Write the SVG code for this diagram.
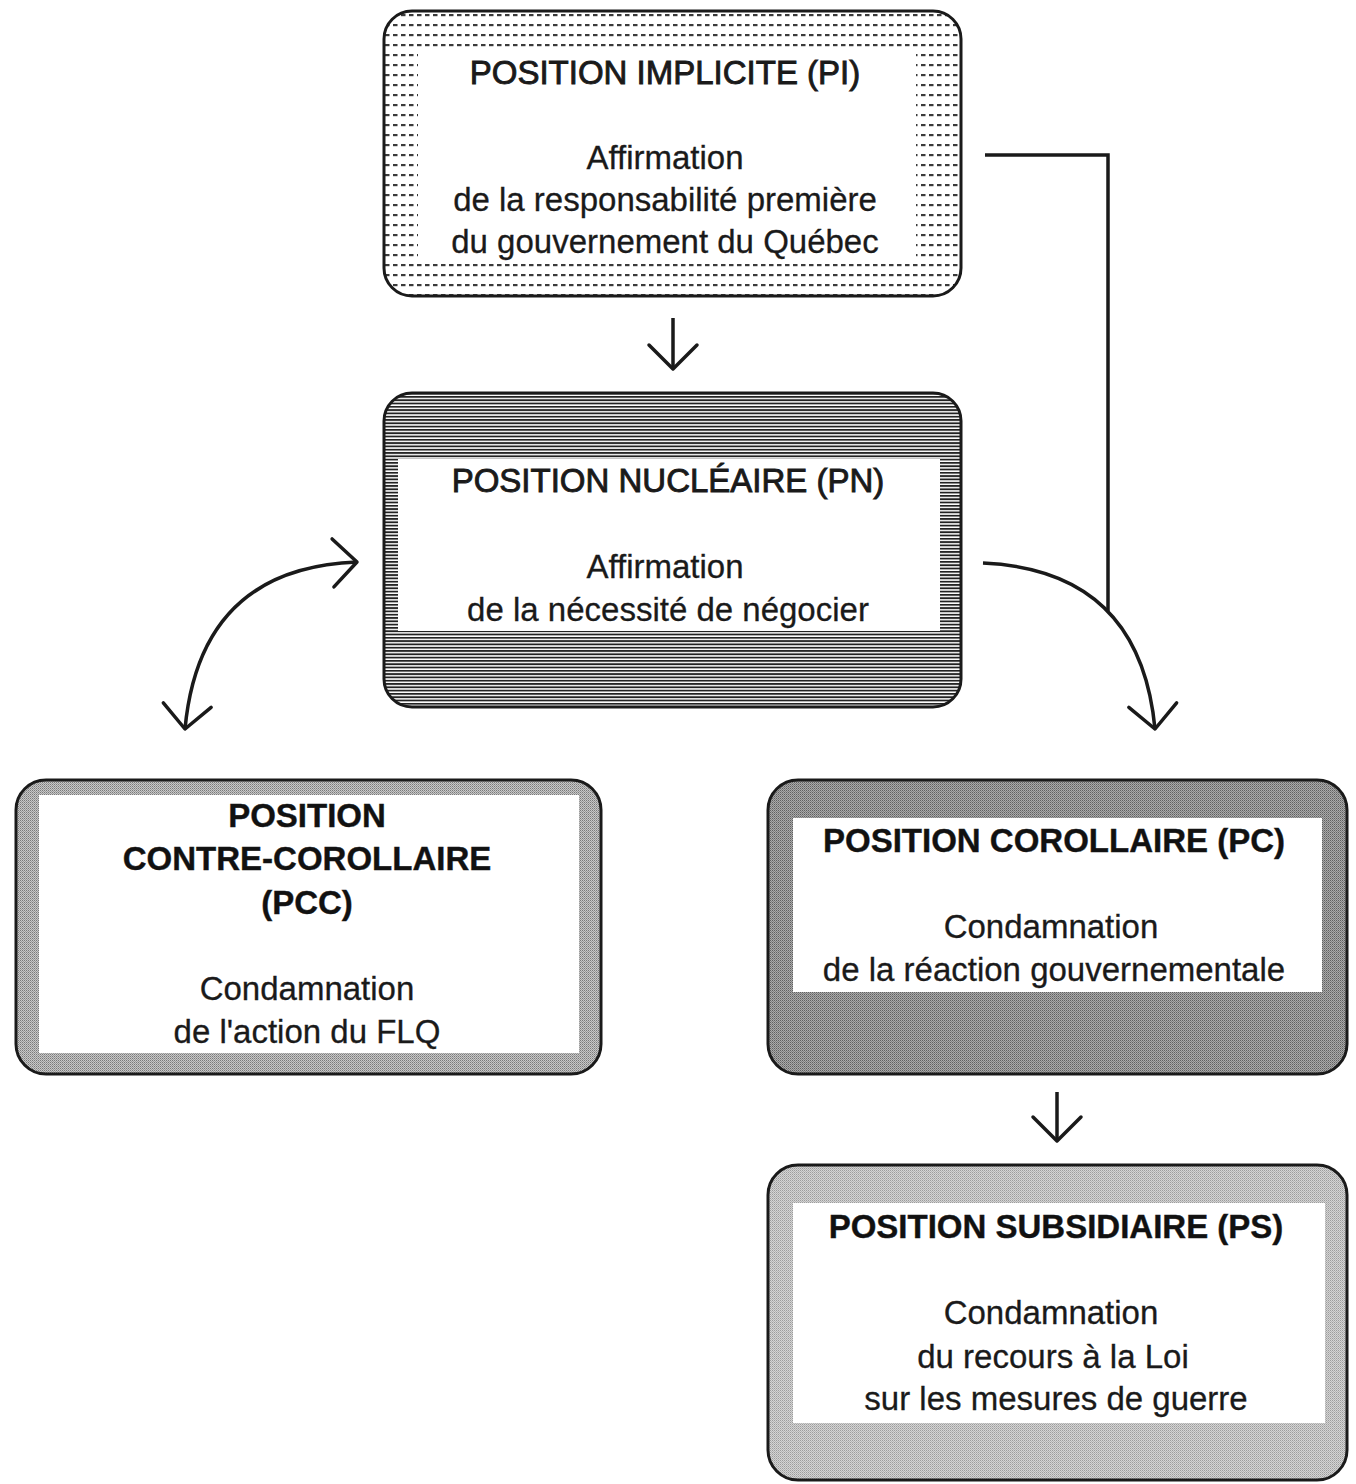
<svg xmlns="http://www.w3.org/2000/svg" width="1356" height="1484" viewBox="0 0 1356 1484">
  <style>
    .frame { stroke: #1a1a1a; stroke-width: 3; }
    .inner { fill: #ffffff; }
    text { font-family: "Liberation Sans", Arial, sans-serif; font-size: 33px; text-anchor: middle; fill: #1a1a1a; stroke: #1a1a1a; stroke-width: 0.3; }
    .tmed { stroke-width: 0.9; }
    .tbold { font-weight: bold; fill: #111; stroke-width: 0.4; }
    .conn { fill: none; stroke: #1a1a1a; stroke-width: 3.5; }
  </style>
  <defs>
    <pattern id="dots" width="8" height="10" patternUnits="userSpaceOnUse">
      <rect width="8" height="10" fill="#ffffff"/>
      <rect x="1" y="4" width="4.5" height="2.2" fill="#3a3a3a"/>
    </pattern>
    <pattern id="stripes" width="10" height="3.3" patternUnits="userSpaceOnUse">
      <rect width="10" height="3.3" fill="#ffffff"/>
      <rect width="10" height="1.8" fill="#222222"/>
    </pattern>
    <pattern id="grainMid" width="2" height="2" patternUnits="userSpaceOnUse">
      <rect width="2" height="2" fill="#c8c8c8"/>
      <rect width="1" height="1" fill="#7a7a7a"/>
      <rect x="1" y="1" width="1" height="1" fill="#9a9a9a"/>
    </pattern>
    <pattern id="grainDark" width="2" height="2" patternUnits="userSpaceOnUse">
      <rect width="2" height="2" fill="#aaaaaa"/>
      <rect width="1" height="1" fill="#606060"/>
      <rect x="1" y="1" width="1" height="1" fill="#808080"/>
    </pattern>
    <pattern id="grainLight" width="2" height="2" patternUnits="userSpaceOnUse">
      <rect width="2" height="2" fill="#d4d4d4"/>
      <rect width="1" height="1" fill="#9c9c9c"/>
      <rect x="1" y="1" width="1" height="1" fill="#b4b4b4"/>
    </pattern>
    <marker id="head" markerUnits="userSpaceOnUse" viewBox="-30 -30 34 60" markerWidth="34" markerHeight="60" refX="0" refY="0" orient="auto-start-reverse">
      <path d="M-24,-24 L0,0 L-24,24" fill="none" stroke="#1a1a1a" stroke-width="3.5" stroke-linecap="round" stroke-linejoin="round"/>
    </marker>
  </defs>

  <g id="connectors">
    <path class="conn" d="M673,318 V369" marker-end="url(#head)"/>
    <path class="conn" d="M1057,1092 V1141" marker-end="url(#head)"/>
    <path class="conn" d="M357,562 Q200,568 185,729" marker-start="url(#head)" marker-end="url(#head)"/>
    <path class="conn" d="M983,563 Q1140,570 1155,729" marker-end="url(#head)"/>
    <path class="conn" d="M985,155 H1108 V611"/>
  </g>

  <g id="node-pi">
    <rect class="frame" x="384" y="11" width="577" height="285" rx="28" fill="url(#dots)"/>
    <rect class="inner" x="418" y="48" width="498" height="215"/>
    <text class="tmed" x="665" y="84">POSITION IMPLICITE (PI)</text>
    <text x="665" y="169">Affirmation</text>
    <text x="665" y="211">de la responsabilité première</text>
    <text x="665" y="253">du gouvernement du Québec</text>
  </g>

  <g id="node-pn">
    <rect class="frame" x="384" y="393" width="577" height="314" rx="28" fill="url(#stripes)"/>
    <rect class="inner" x="398" y="459" width="542" height="172"/>
    <text class="tmed" x="668" y="492">POSITION NUCLÉAIRE (PN)</text>
    <text x="665" y="578">Affirmation</text>
    <text x="668" y="621">de la nécessité de négocier</text>
  </g>

  <g id="node-pcc">
    <rect class="frame" x="16" y="780" width="585" height="294" rx="30" fill="url(#grainMid)"/>
    <rect class="inner" x="39" y="795" width="540" height="258"/>
    <text class="tbold" x="307" y="827">POSITION</text>
    <text class="tbold" x="307" y="870">CONTRE-COROLLAIRE</text>
    <text class="tbold" x="307" y="914">(PCC)</text>
    <text x="307" y="1000">Condamnation</text>
    <text x="307" y="1043">de l'action du FLQ</text>
  </g>

  <g id="node-pc">
    <rect class="frame" x="768" y="780" width="579" height="294" rx="30" fill="url(#grainDark)"/>
    <rect class="inner" x="793" y="818" width="529" height="174"/>
    <text class="tbold" x="1054" y="852">POSITION COROLLAIRE (PC)</text>
    <text x="1051" y="938">Condamnation</text>
    <text x="1054" y="981">de la réaction gouvernementale</text>
  </g>

  <g id="node-ps">
    <rect class="frame" x="768" y="1165" width="579" height="315" rx="30" fill="url(#grainLight)"/>
    <rect class="inner" x="793" y="1203" width="532" height="220"/>
    <text class="tbold" x="1056" y="1238">POSITION SUBSIDIAIRE (PS)</text>
    <text x="1051" y="1324">Condamnation</text>
    <text x="1053" y="1368">du recours à la Loi</text>
    <text x="1056" y="1410">sur les mesures de guerre</text>
  </g>
</svg>
